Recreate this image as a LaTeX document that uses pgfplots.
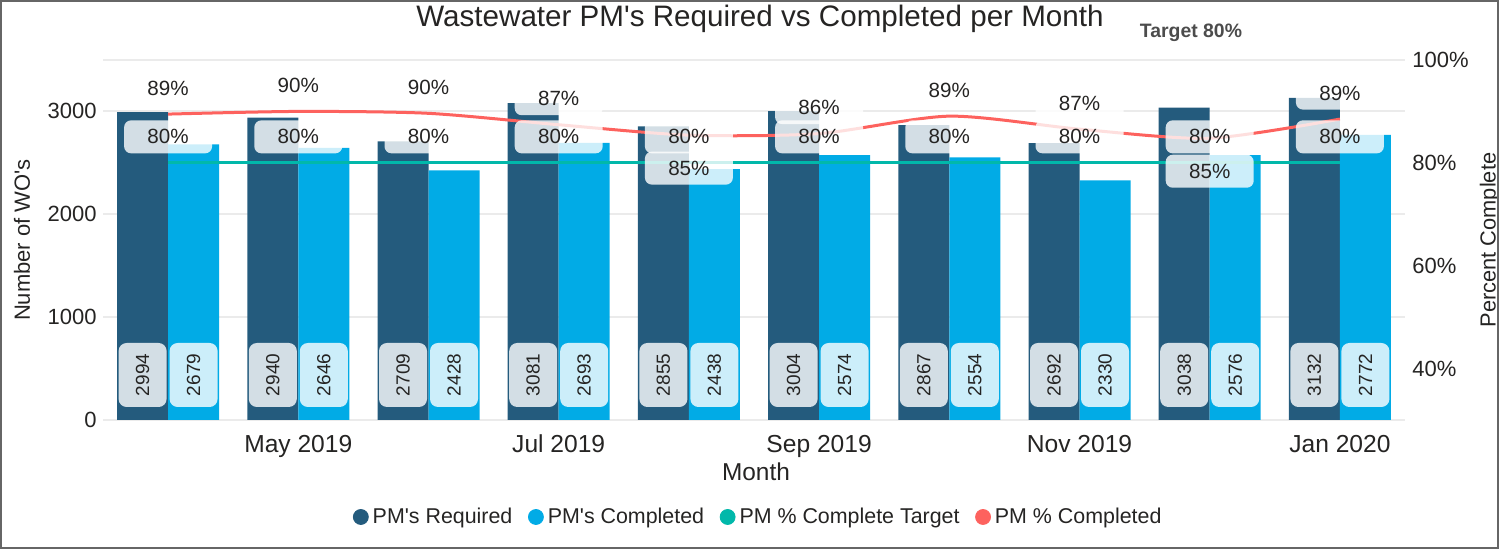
\documentclass[border=0pt]{standalone}
\usepackage{pgfplots}
\pgfplotsset{compat=1.18}
\usepackage{pgfplotstable}
\usepackage{fontspec}
\setmainfont{Liberation Sans}[Ligatures=TeXOff]
\definecolor{req}{HTML}{245B7D}
\definecolor{comp}{HTML}{01ABE6}
\definecolor{tgt}{HTML}{01B8AA}
\definecolor{pct}{HTML}{FD625E}
\definecolor{txt}{HTML}{252423}

\pgfplotstableread{
x req comp
0 2994 2679
1 2940 2646
2 2709 2428
3 3081 2693
4 2855 2438
5 3004 2574
6 2867 2554
7 2692 2330
8 3038 2576
9 3132 2772
}\bars

\pgfplotstableread{
x pct lshift
0 89.48 13
1 90.00 13
2 89.63 13
3 87.41 13
4 85.39 -16.5
5 85.69 13
6 89.08 13
7 86.55 13
8 84.79 -16.5
9 88.51 13
}\pcts

\pgfplotstableread{
x tgt
0 80
1 80
2 80
3 80
4 80
5 80
6 80
7 80
8 80
9 80
}\target

\pgfplotsset{
  base/.style={width=651pt, height=180pt, scale only axis,
    xmin=-0.5, xmax=9.5, clip=false,
    axis line style={draw=none}, tick style={draw=none},
    at={(0,0)}, anchor=south west,
    /pgf/number format/assume math mode=true,
    /pgf/number format/1000 sep={},
    ticklabel style={text=txt}},
}
\tikzset{
  lbl/.style={fill=white, fill opacity=0.8, text opacity=1, rounded corners=3.5pt,
    inner sep=0pt, minimum width=44pt, minimum height=16.5pt,
    font=\fontsize{10.3}{12}\selectfont, text=txt},
  blbl/.style={fill=white, fill opacity=0.8, text opacity=1, rounded corners=4pt,
    inner sep=0pt, minimum width=32pt, minimum height=24pt, rotate=90,
    font=\fontsize{9.5}{11}\selectfont, text=txt},
}

\begin{document}
\begin{tikzpicture}
\begin{axis}[base,
  ymin=0, ymax=3500,
  ytick={0,1000,2000,3000},
  extra y ticks={3500}, extra y tick labels={}, extra y tick style={grid=major},
  ymajorgrids, grid style={draw=black!8, line width=1pt},
  xtick={1,3,5,7,9},
  xticklabels={May 2019,Jul 2019,Sep 2019,Nov 2019,Jan 2020},
  xticklabel style={font=\fontsize{12.3}{14}\selectfont, anchor=base, yshift=-12pt},
  yticklabel style={font=\fontsize{11}{13}\selectfont, anchor=east, inner sep=0pt, xshift=-3pt},
  ylabel={Number of WO's},
  ylabel style={at={(axis description cs:-0.0622,0.5)}, anchor=center, font=\fontsize{11}{13}\selectfont, text=txt},
  xlabel={Month},
  xlabel style={at={(axis description cs:0.5015,-0.1444)}, anchor=center, font=\fontsize{12.2}{14}\selectfont, text=txt},
  ybar=0pt, bar width=25.5pt]
\addplot[fill=req, draw=none] table[x=x, y=req]{\bars};
\addplot[fill=comp, draw=none] table[x=x, y=comp]{\bars};
\end{axis}

\begin{axis}[base, ymin=0, ymax=3500, hide axis]
\addplot[draw=none, mark=none,
  nodes near coords={\pgfmathprintnumber[fixed,precision=0]{\pgfplotspointmeta}},
  point meta=explicit,
  every node near coord/.style={xshift=-12.75pt, anchor=center, blbl}]
  table[x=x, y expr=437.5, meta=req]{\bars};
\addplot[draw=none, mark=none,
  nodes near coords={\pgfmathprintnumber[fixed,precision=0]{\pgfplotspointmeta}},
  point meta=explicit,
  every node near coord/.style={xshift=12.75pt, anchor=center, blbl}]
  table[x=x, y expr=437.5, meta=comp]{\bars};
\end{axis}

\begin{axis}[base,
  ymin=30, ymax=100,
  axis y line*=right, axis x line=none, xtick=\empty,
  ytick={40,60,80,100},
  yticklabel={\pgfmathprintnumber{\tick}\%},
  yticklabel style={font=\fontsize{11}{13}\selectfont, anchor=west, inner sep=0pt, xshift=3.5pt},
  ylabel={Percent Complete},
  ylabel style={at={(axis description cs:1.0653,0.5)}, anchor=center, rotate=0, font=\fontsize{10.9}{13}\selectfont, text=txt},
  legend columns=-1,
  legend image code/.code={\fill[#1] (3.75pt,0pt) circle (3.75pt);},
  legend style={at={(0.504,-0.2694)}, anchor=center, draw=none, fill=none,
    font=\fontsize{10.7}{12}\selectfont, text=txt,
    /tikz/every even column/.append style={column sep=5.8pt}},
]
\addplot[pct, line width=1.5pt, smooth, tension=0.45, mark=none, forget plot] table[x=x, y=pct]{\pcts};
\addplot[tgt, line width=1.5pt, mark=none, forget plot] table[x=x, y=tgt]{\target};
\addplot[draw=none, mark=none, forget plot,
  nodes near coords={\pgfmathprintnumber[fixed,precision=0]{\pgfplotspointmeta}\%},
  point meta=y,
  every node near coord/.append style={lbl, anchor=center, yshift=13pt}]
  table[x=x, y=tgt]{\target};
\addplot[draw=none, mark=none, forget plot,
  nodes near coords={\pgfmathprintnumber[fixed,precision=0]{\pgfplotspointmeta}\%},
  point meta=y,
  visualization depends on={\thisrow{lshift}\as\lshift},
  every node near coord/.append style={lbl, anchor=center, yshift=\lshift pt}]
  table[x=x, y=pct]{\pcts};
\addlegendimage{req}\addlegendentry{PM's Required}
\addlegendimage{comp}\addlegendentry{PM's Completed}
\addlegendimage{tgt}\addlegendentry{PM \% Complete Target}
\addlegendimage{pct}\addlegendentry{PM \% Completed}
\end{axis}

\node[font=\fontsize{14.8}{17}\selectfont, text=txt] at (328.5pt,200.5pt) {Wastewater PM's Required vs Completed per Month};
\node[font=\bfseries\fontsize{9.7}{11}\selectfont, text=black!70] at (544pt,193.5pt) {Target 80\%};
\draw[black!60, line width=1pt] (-51pt,-64pt) rectangle (697.5pt,209.5pt);
\pgfresetboundingbox
\path[use as bounding box] (-51.5pt,-64.5pt) rectangle (698pt,210pt);
\end{tikzpicture}
\end{document}
